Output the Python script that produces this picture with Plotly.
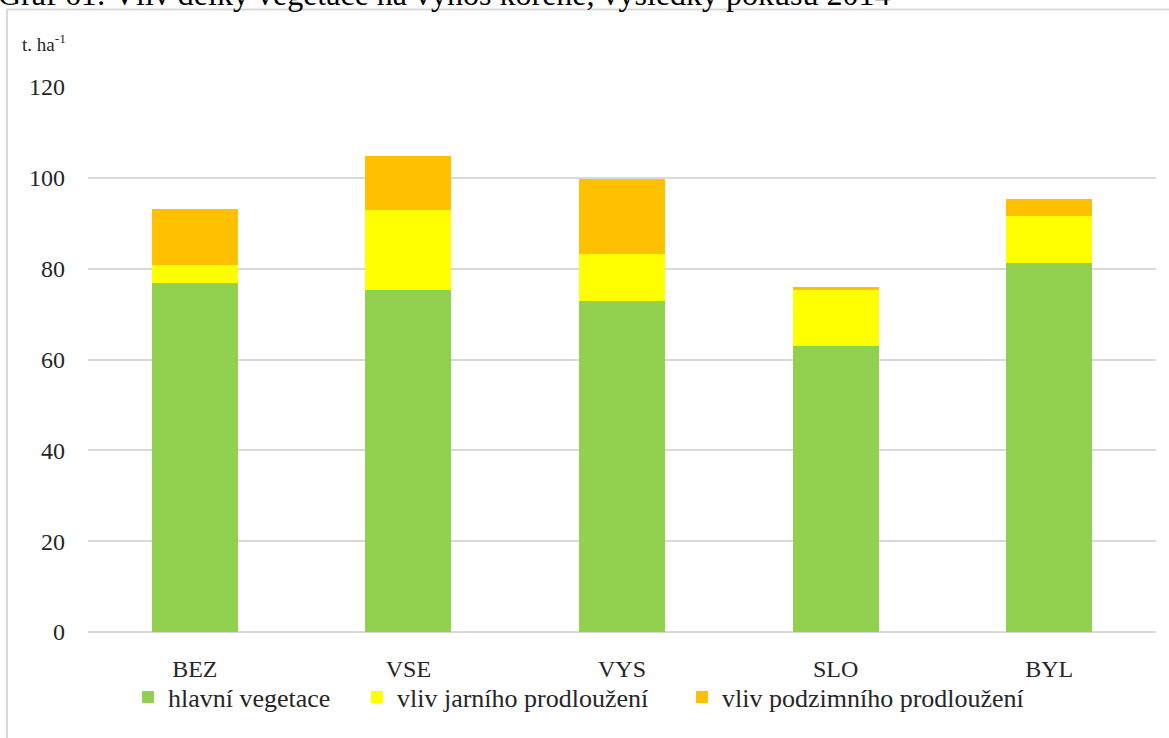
import plotly.graph_objects as go

categories = ["BEZ", "VSE", "VYS", "SLO", "BYL"]
hlavni = [76.8, 75.4, 72.9, 63.0, 81.3]
jarni = [3.9, 17.5, 10.4, 12.4, 10.2]
podzimni = [12.4, 12.0, 16.5, 0.6, 3.9]
series_names = ["hlavní vegetace", "vliv jarního prodloužení", "vliv podzimního prodloužení"]
series_colors = ["#92D050", "#FFFF00", "#FFC000"]
y_ticks = [0, 20, 40, 60, 80, 100, 120]

W, H = 1169, 738
L, R, T, B = 88, 13, 87, 106
pw = W - L - R
ph = H - T - B

def px(x):
    return (x - L) / pw

def py(y):
    return (H - B - y) / ph

font = "Liberation Serif"
txt = "#262626"

legend_ids = ["legend", "legend2", "legend3"]
legend_left = [128, 357, 682]

fig = go.Figure()
for name, vals, col, lid in zip(series_names, [hlavni, jarni, podzimni], series_colors, legend_ids):
    fig.add_trace(go.Bar(x=categories, y=vals, name=name, marker_color=col,
                         marker_line_width=0, legend=lid))

legend_common = dict(orientation="h", xref="container", yref="container",
                     xanchor="left", y=(H - 697) / H, yanchor="middle",
                     bgcolor="rgba(0,0,0,0)",
                     font=dict(family=font, size=26, color=txt), itemwidth=30)

fig.update_layout(
    width=W, height=H,
    margin=dict(l=L, r=R, t=T, b=B, autoexpand=False),
    barmode="stack", bargap=0.597,
    paper_bgcolor="white", plot_bgcolor="white",
    font=dict(family=font, size=24, color=txt),
    showlegend=True,
    legend=dict(x=legend_left[0] / W, **legend_common),
    legend2=dict(x=legend_left[1] / W, **legend_common),
    legend3=dict(x=legend_left[2] / W, **legend_common),
    xaxis=dict(showgrid=False, showline=False, ticks="", ticklabelstandoff=20,
               tickfont=dict(family=font, size=24, color=txt)),
    yaxis=dict(range=[0, 120], tickvals=y_ticks, showgrid=True,
               gridcolor="#d9d9d9", gridwidth=1.5, zeroline=True,
               zerolinecolor="#d9d9d9", zerolinewidth=1.5, showline=False,
               ticks="", ticklabelstandoff=22,
               tickfont=dict(family=font, size=24, color=txt)),
)

# axis unit label
fig.add_annotation(text="t. ha<sup>-1</sup>", xref="paper", yref="paper",
                   x=px(20), y=py(43), xanchor="left", yanchor="middle",
                   showarrow=False, font=dict(family=font, size=19, color=txt))

# clipped document caption at the top
fig.add_annotation(text="Graf 61: Vliv délky vegetace na výnos kořene, výsledky pokusu 2014",
                   xref="paper", yref="paper", x=px(-4), y=py(-6),
                   xanchor="left", yanchor="middle", showarrow=False,
                   font=dict(family=font, size=32, color="#000000"))

# chart frame (left and top edges)
fig.add_shape(type="path", xref="paper", yref="paper",
              path=f"M {px(7)} {py(760)} L {px(7)} {py(9.5)} L {px(1180)} {py(9.5)}",
              line=dict(color="#d9d9d9", width=2))

fig.write_html("out.html", config={"displayModeBar": False},
               post_script="document.body.style.margin='0';")
